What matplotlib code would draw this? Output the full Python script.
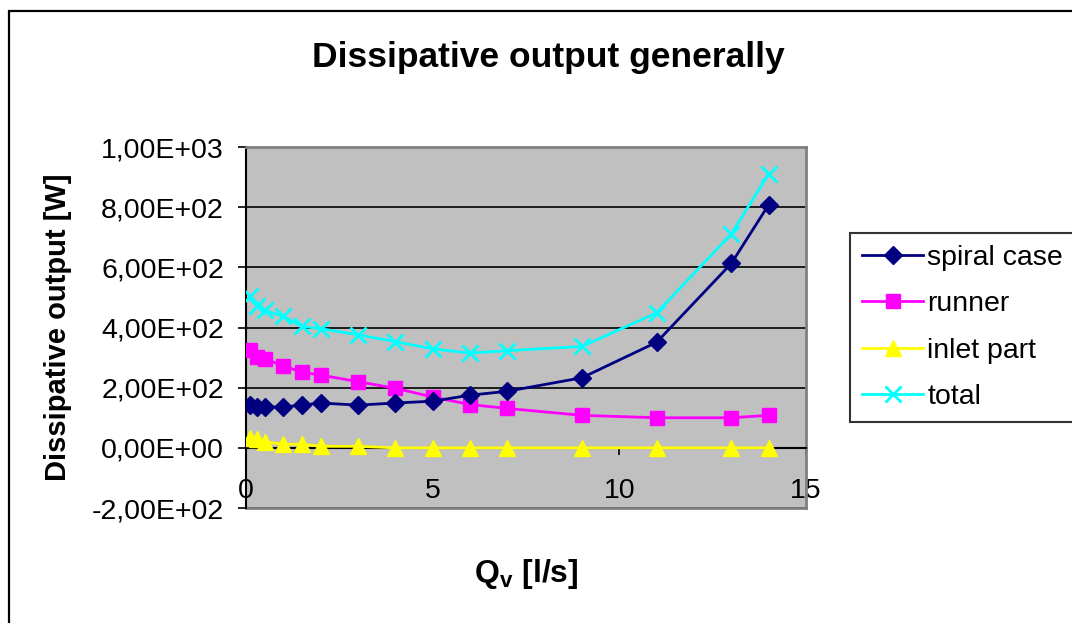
import matplotlib
matplotlib.use("Agg")
from matplotlib import pyplot as plt
from matplotlib.patches import Rectangle
from matplotlib.ticker import FuncFormatter

plt.rcParams['font.family'] = ['Liberation Sans', 'DejaVu Sans']

# flow rate [l/s]
q = [0.1, 0.3, 0.5, 1, 1.5, 2, 3, 4, 5, 6, 7, 9, 11, 13, 14]
# dissipative output [W]
spiral_case = [142, 136, 136, 136, 142, 149, 142, 149, 155, 175, 188, 233, 351, 613, 808]
runner = [326, 303, 296, 273, 251, 242, 220, 198, 169, 144, 131, 108, 100, 100, 108]
inlet_part = [33, 28, 20, 12, 12, 5, 5, 0, 0, 0, 0, 0, 0, 0, 0]
total = [504, 471, 457, 437, 404, 396, 376, 353, 329, 315, 323, 337, 449, 711, 911]

y_ticks = [-200, 0, 200, 400, 600, 800, 1000]
x_ticks = [0, 5, 10, 15]


def sci_comma(v, pos=None):
    # Excel style "1,00E+03"
    s = "{:.2E}".format(v)
    return s.replace(".", ",")


W, H = 1072, 623
fig = plt.figure(figsize=(W / 100, H / 100), dpi=100)
ax = fig.add_axes([246 / W, 1 - 508 / H, (806 - 246) / W, (508 - 147) / H])
ax.set_facecolor('#C0C0C0')

ax.plot(q, spiral_case, color='#000080', lw=2, marker='D', ms=9, label='spiral case', zorder=5)
ax.plot(q, runner, color='#FF00FF', lw=2, marker='s', ms=10, label='runner', zorder=4)
ax.plot(q, inlet_part, color='#FFFF00', lw=2, marker='^', ms=11, label='inlet part', zorder=3)
ax.plot(q, total, color='#00FFFF', lw=2, marker='x', ms=11, mew=2, label='total', zorder=6)

ax.set_xlim(0, 15)
ax.set_ylim(-200, 1000)
ax.set_yticks(y_ticks)
ax.set_xticks(x_ticks)
ax.yaxis.set_major_formatter(FuncFormatter(sci_comma))
ax.set_axisbelow(True)
ax.yaxis.grid(True, color='black', lw=1.2)

ax.spines['left'].set_color('black')
ax.spines['left'].set_linewidth(1.5)
ax.spines['bottom'].set_position(('data', 0))
ax.spines['bottom'].set_color('black')
ax.spines['bottom'].set_linewidth(1.5)
for side in ['top', 'right']:
    ax.spines[side].set_color('#808080')
    ax.spines[side].set_linewidth(2)
ax.axhline(-200, color='#808080', lw=2, clip_on=False, zorder=2)

ax.tick_params(axis='y', direction='out', length=6, width=1.2, labelsize=20.5, pad=10)
ax.tick_params(axis='x', direction='out', length=5, width=1.2, labelsize=20.5, pad=17)

ax.set_ylabel('Dissipative output [W]', fontsize=21, fontweight='bold', labelpad=14)
fig.text(526 / W, 1 - 574 / H, r'Q$_\mathregular{v}$ [l/s]', fontsize=23, fontweight='bold',
         ha='center', va='center')
fig.text(548 / W, 1 - 58 / H, 'Dissipative output generally', fontsize=25.5, fontweight='bold',
         ha='center', va='center')

leg = fig.legend(loc='upper left', bbox_to_anchor=(850 / W, 1 - 233 / H), fontsize=20.5,
                 frameon=True, fancybox=False, borderaxespad=0, handlelength=2.15,
                 handletextpad=0.15, labelspacing=0.72, borderpad=0.42)
leg.get_frame().set_edgecolor('black')
leg.get_frame().set_linewidth(1.5)

# outer chart border, runs off the right and bottom of the picture
fig.add_artist(Rectangle((9 / W, -0.1), 2, 1 - 11 / H + 0.1, transform=fig.transFigure,
                         fill=False, edgecolor='black', lw=1.6))

fig.savefig('out.png', dpi=100)
